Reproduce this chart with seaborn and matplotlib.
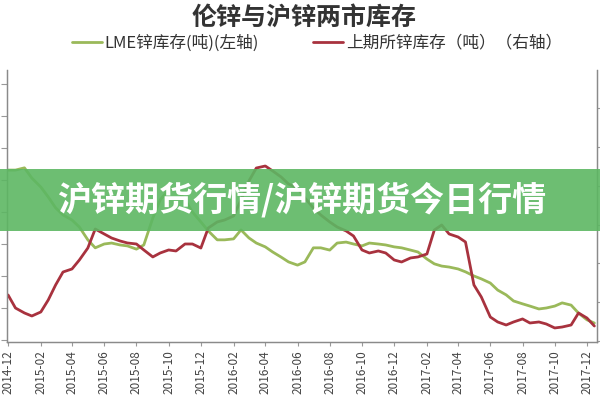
import pandas as pd
import matplotlib
matplotlib.use("Agg")
import matplotlib.pyplot as plt
import matplotlib.dates as mdates
from matplotlib.lines import Line2D
from matplotlib.patches import Rectangle
import seaborn as sns

# semi-monthly sampling, Dec 2014 - Dec 2017
dates = pd.date_range("2014-12-01", periods=74, freq="SMS")

# LME zinc stocks, tonnes (left axis)
lme_stock = [731000, 731000, 738000, 706000, 678000, 647000, 613000, 591000, 575000, 553000,
             513000, 488000, 500000, 503000, 497000, 494000, 484000, 497000, 581000, 638000,
             669000, 675000, 638000, 600000, 569000, 541000, 513000, 513000, 516000, 544000,
             519000, 503000, 491000, 475000, 459000, 444000, 434000, 444000, 488000, 488000,
             481000, 503000, 506000, 500000, 494000, 503000, 500000, 497000, 491000, 488000,
             481000, 475000, 453000, 438000, 431000, 428000, 422000, 413000, 400000, 391000,
             378000, 356000, 341000, 322000, 313000, 306000, 297000, 300000, 306000, 316000,
             309000, 284000, 263000, 253000]

# SHFE zinc stocks, tonnes (right axis)
shfe_stock = [59300, 42500, 36100, 32200, 37400, 52800, 72200, 88900, 92800, 104400,
              119800, 144300, 137900, 132700, 128900, 126300, 125000, 117300, 108300, 113400,
              117300, 116000, 125000, 125000, 119800, 145600, 153400, 155900, 161100, 181700,
              206200, 222900, 225500, 219100, 211300, 202300, 197200, 184300, 171400, 162400,
              153400, 146900, 141800, 135300, 117300, 113400, 116000, 113400, 104400, 101800,
              107000, 108300, 112100, 143000, 149500, 137900, 134000, 127600, 72200, 56700,
              30900, 24500, 20600, 24500, 28400, 23200, 24500, 21900, 16800, 18000,
              20600, 36100, 29600, 19300]

labels = ["LME锌库存(吨)(左轴)", "上期所锌库存（吨）（右轴）"]
title = "伦锌与沪锌两市库存"
banner = "沪锌期货行情/沪锌期货今日行情"

green = "#9AB95A"
red = "#A8323E"

sns.set_theme(style="white")
plt.rcParams["font.family"] = ["Noto Sans CJK SC", "DejaVu Sans"]

df = pd.DataFrame({"date": dates, "lme": lme_stock, "shfe": shfe_stock})

fig = plt.figure(figsize=(6, 4), dpi=100)
ax = fig.add_axes([0.0117, 0.145, 0.9833, 0.68])
ax2 = ax.twinx()

sns.lineplot(data=df, x="date", y="lme", color=green, linewidth=2.0, ax=ax)
sns.lineplot(data=df, x="date", y="shfe", color=red, linewidth=2.0, ax=ax2)

ax.set_xlim(pd.Timestamp("2014-11-29"), pd.Timestamp("2017-12-20"))
ax.set_ylim(193750, 1043750)
ax.set_yticks(range(200000, 1000001, 100000))
ax2.set_ylim(-1300, 349200)
ax2.set_yticks(range(0, 300001, 50000))

ax.xaxis.set_major_locator(mdates.MonthLocator(bymonth=[2, 4, 6, 8, 10, 12]))
ax.xaxis.set_major_formatter(mdates.DateFormatter("%Y-%m"))
ax.tick_params(axis="x", rotation=90, labelsize=8.5, colors="#444444", length=3,
               width=0.8, bottom=True, pad=3)
ax.tick_params(axis="x", color="#999999")
ax.tick_params(axis="y", left=True, labelleft=False, length=4, width=0.8, color="#999999")
ax2.tick_params(axis="y", right=True, labelright=False, length=4, width=0.8, color="#999999")
ax.set_xlabel("")
ax.set_ylabel("")
ax2.set_ylabel("")

for a in (ax, ax2):
    a.spines["top"].set_visible(False)
    for s in ("left", "right", "bottom"):
        a.spines[s].set_color("#8a8a8a")
        a.spines[s].set_linewidth(0.9)

fig.text(0.507, 0.955, title, ha="center", va="center", fontsize=18,
         fontweight="bold", color="#333333")

handles = [Line2D([], [], color=green, linewidth=2.0),
           Line2D([], [], color=red, linewidth=2.0)]
fig.legend(handles, labels, ncol=2, loc="center", bbox_to_anchor=(0.528, 0.892),
           frameon=False, fontsize=12, handlelength=1.8, handletextpad=0.15,
           columnspacing=3.3, labelcolor="#333333")

fig.add_artist(Rectangle((0, 0.4225), 1, 0.155, transform=fig.transFigure,
                         facecolor="#5DB763", edgecolor="none", alpha=0.9, zorder=10))
fig.text(0.502, 0.5, banner, ha="center", va="center", fontsize=24.5,
         fontweight="heavy", color="white", zorder=11)

fig.savefig("out.png", dpi=100)
